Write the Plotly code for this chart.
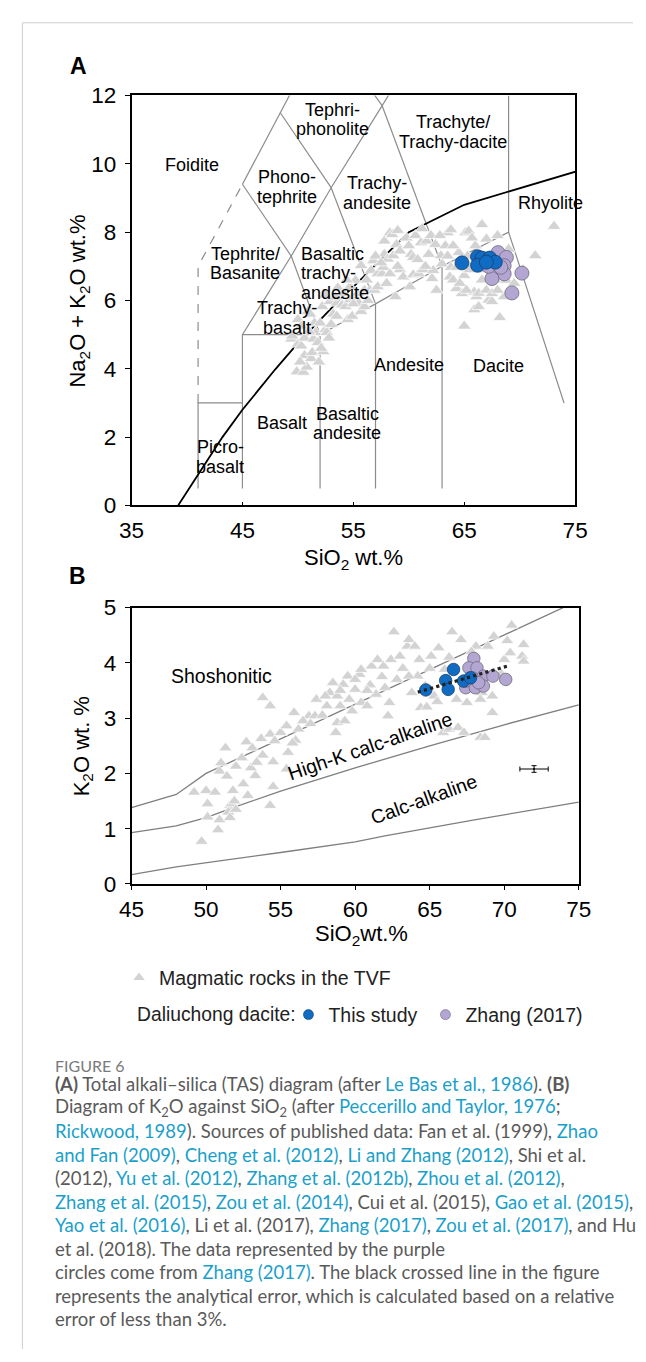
import plotly.graph_objects as go

W, H = 646, 1362

# ---------------- data: panel A (TAS) ----------------
# published magmatic rocks of the TVF: (SiO2, Na2O+K2O)
tvf_tas = [
    (49.4, 4.87), (49.5, 4.96), (49.9, 3.91), (50.0, 4.72), (50.0, 5.44), (50.3, 5.25), (50.3, 4.67), (50.5, 3.90),
    (50.6, 4.39), (50.6, 4.90), (50.8, 4.05), (50.9, 5.68), (51.1, 5.60), (51.2, 4.30), (51.3, 4.48), (51.4, 4.87),
    (51.5, 5.34), (51.6, 5.06), (51.8, 4.77), (51.9, 4.20), (52.0, 5.34), (52.2, 5.82), (52.3, 4.50), (52.5, 5.15),
    (52.5, 6.16), (52.6, 5.06), (52.8, 4.90), (52.9, 5.97), (53.0, 5.30), (53.2, 5.60), (53.5, 5.54), (53.5, 5.92),
    (53.6, 6.37), (54.0, 5.87), (54.1, 6.20), (54.3, 5.82), (54.5, 5.44), (54.7, 6.02), (54.7, 6.40), (54.9, 5.54),
    (55.1, 6.10), (55.2, 6.59), (55.4, 6.21), (55.5, 5.92), (55.7, 5.68), (55.7, 7.02), (56.0, 5.82), (56.0, 6.30),
    (56.2, 6.60), (56.5, 6.30), (56.6, 6.88), (56.8, 7.16), (56.9, 6.30), (57.2, 6.78), (57.2, 6.40), (57.6, 6.78),
    (57.7, 6.97), (57.8, 7.35), (57.8, 7.74), (58.1, 7.21), (58.3, 7.98), (58.3, 6.78), (58.5, 7.93), (58.6, 7.31),
    (58.8, 6.11), (58.9, 7.64), (59.2, 7.45), (59.2, 6.90), (59.5, 6.69), (59.8, 7.83), (60.1, 6.40), (60.2, 7.35),
    (60.4, 7.26), (60.4, 6.75), (60.6, 7.90), (60.9, 6.78), (61.1, 7.69), (61.3, 6.90), (61.6, 7.74), (61.8, 7.35),
    (62.1, 6.64), (62.2, 6.88), (62.4, 7.64), (62.5, 6.30), (62.9, 7.31), (63.0, 7.07), (63.5, 7.98), (63.7, 6.69),
    (63.8, 8.07), (63.8, 6.97), (64.3, 6.97), (64.3, 6.35), (64.5, 7.40), (64.8, 6.20), (65.0, 6.73), (65.0, 5.25),
    (65.1, 7.98), (65.4, 8.03), (65.5, 6.90), (65.7, 7.83), (65.9, 6.25), (65.9, 5.73), (66.0, 7.60), (66.1, 6.11),
    (66.3, 5.82), (66.3, 6.21), (66.6, 8.22), (66.6, 6.60), (67.0, 6.30), (67.0, 7.80), (67.2, 6.01), (67.5, 5.97),
    (67.8, 6.60), (68.0, 7.90), (68.2, 5.50), (68.6, 6.11), (68.8, 6.59), (69.0, 7.50), (69.5, 6.50), (70.3, 6.90),
    (71.4, 7.31), (73.1, 8.17),
    (50.2, 4.20), (51.0, 5.10), (52.1, 4.60), (53.4, 6.10), (54.4, 6.60), (55.0, 5.90), (56.3, 6.00), (57.0, 7.30),
    (57.5, 7.10), (58.0, 6.50), (59.0, 7.00), (59.0, 8.05), (60.0, 7.60), (60.8, 7.20), (61.2, 8.10), (61.5, 7.00),
    (62.0, 7.90), (62.8, 7.90), (63.3, 7.60), (63.5, 7.30), (64.0, 6.60), (64.0, 7.60), (64.6, 6.50), (65.2, 6.30),
    (65.3, 7.30), (66.8, 6.90), (67.5, 6.20), (68.0, 6.30),
]
# Daliuchong dacite
this_study_tas = [(64.8, 7.10), (66.2, 7.28), (66.6, 7.24), (66.2, 7.03), (67.3, 7.24), (67.8, 7.12), (67.0, 7.12)]
zhang2017_tas = [(68.05, 7.40), (68.8, 7.26), (67.5, 7.07), (68.6, 7.02), (67.7, 6.78), (68.6, 6.78),
                 (67.5, 6.64), (70.2, 6.80), (69.3, 6.22), (67.2, 7.00), (68.3, 6.97)]

# TAS field boundaries (Le Bas et al., 1986)
tas_fields = [
    [(41, 0.5), (41, 3), (45, 3)],
    [(45, 0.5), (45, 5), (49.4, 7.3), (53, 9.3), (57.6, 11.7), (61, 13.5)],
    [(45, 5), (52, 5), (57, 5.9), (63, 7), (69, 8), (74, 3)],
    [(52, 0.5), (52, 5)],
    [(57, 0.5), (57, 5.9)],
    [(63, 0.5), (63, 7)],
    [(49.4, 7.3), (52, 5)],
    [(45, 9.4), (49.4, 7.3)],
    [(53, 9.3), (57, 5.9)],
    [(57.6, 11.7), (63, 7)],
    [(45, 9.4), (48.4, 11.5), (52.5, 14)],
    [(48.4, 11.5), (53, 9.3)],
    [(57.6, 11.7), (52.5, 14)],
    [(69, 8), (69, 12)],
]
foidite_limit = [(41, 3), (41, 7), (45, 9.4)]
# alkaline / subalkaline divide
alk_divide_sio2 = [39.2, 40, 43.2, 45, 48, 50, 53.7, 55, 60, 65, 77.4]
alk_divide_tot = [0, 0.4, 2, 2.8, 4, 4.75, 6, 6.4, 8, 8.8, 10]

# field names: (text, SiO2, Na2O+K2O, anchor)
tas_names = [
    ("Foidite", 40.43, 9.97, "center"),
    ("Tephri-", 53.08, 11.57, "center"), ("phonolite", 53.08, 11.01, "center"),
    ("Trachyte/", 63.95, 11.22, "center"), ("Trachy-dacite", 63.95, 10.64, "center"),
    ("Phono-", 48.98, 9.61, "center"), ("tephrite", 48.98, 9.03, "center"),
    ("Trachy-", 57.11, 9.43, "center"), ("andesite", 57.11, 8.86, "center"),
    ("Rhyolite", 72.79, 8.84, "center"),
    ("Tephrite/", 45.24, 7.37, "center"), ("Basanite", 45.24, 6.80, "center"),
    ("Basaltic", 50.12, 7.37, "left"), ("trachy-", 50.12, 6.80, "left"), ("andesite", 50.12, 6.23, "left"),
    ("Trachy-", 48.98, 5.77, "center"), ("basalt", 48.98, 5.18, "center"),
    ("Andesite", 60.04, 4.10, "center"),
    ("Dacite", 68.06, 4.08, "center"),
    ("Basalt", 48.54, 2.42, "center"),
    ("Basaltic", 54.43, 2.69, "center"), ("andesite", 54.43, 2.12, "center"),
    ("Picro-", 42.99, 1.71, "center"), ("basalt", 42.99, 1.13, "center"),
]

# ---------------- data: panel B (K2O vs SiO2) ----------------
tvf_k2o = [
    (49.7, 0.77), (49.2, 1.66), (50.0, 1.69), (50.1, 1.21), (50.6, 1.66), (50.9, 2.04), (51.0, 2.19), (51.3, 2.46),
    (51.4, 1.95), (51.6, 1.42), (50.8, 0.98), (50.9, 1.16), (50.1, 1.45), (51.8, 1.69), (52.0, 2.13), (52.4, 2.28),
    (52.7, 2.57), (53.1, 2.46), (52.5, 1.81), (53.3, 1.96), (53.7, 2.63), (53.8, 2.33), (53.8, 3.37), (54.3, 3.22),
    (54.3, 2.71), (54.5, 2.21), (54.5, 1.76), (54.3, 1.42), (54.6, 2.59), (55.0, 2.74), (55.4, 2.86), (55.5, 2.38),
    (55.4, 2.08), (55.9, 3.10), (56.2, 2.80), (56.9, 3.04), (57.3, 3.04), (57.4, 3.34), (58.1, 3.22), (58.3, 3.46),
    (58.5, 3.64), (58.8, 3.40), (59.0, 3.22), (58.7, 2.74), (58.8, 2.92), (59.2, 3.61), (59.5, 3.76), (59.6, 3.34),
    (59.8, 3.13), (60.0, 3.52), (60.3, 3.79), (60.4, 3.28), (60.4, 3.88), (60.8, 3.22), (61.1, 3.94), (61.4, 3.43),
    (61.5, 4.06), (61.9, 3.94), (62.0, 3.55), (62.2, 3.04), (62.3, 3.28), (62.4, 4.06), (62.6, 4.56), (63.0, 4.12),
    (63.5, 4.30), (63.6, 4.42), (63.8, 3.46), (64.2, 3.76), (64.3, 4.06), (64.4, 3.19), (64.7, 3.58), (65.1, 4.12),
    (65.6, 4.27), (65.9, 2.74), (66.0, 3.88), (66.3, 2.80), (66.5, 4.56), (66.8, 3.34), (66.9, 2.83), (67.1, 4.42),
    (67.3, 2.74), (67.5, 3.28), (67.9, 4.06), (68.1, 4.30), (68.4, 2.65), (68.7, 2.65), (68.5, 3.46), (68.9, 4.30),
    (69.2, 3.40), (69.3, 4.48), (70.0, 4.06), (70.5, 4.68), (70.4, 4.18), (71.2, 4.12), (71.3, 4.33), (71.3, 4.03),
    (68.4, 3.34), (65.3, 3.40), (63.6, 3.76), (51.5, 1.30), (51.7, 1.45), (51.6, 1.20), (51.9, 1.50), (52.0, 1.35),
    (53.0, 2.10), (56.5, 2.95), (57.8, 3.05), (59.3, 2.95), (61.0, 3.60), (62.8, 3.70),
    (56.0, 2.60), (57.0, 2.90), (58.0, 3.40), (59.0, 3.50), (60.0, 3.70), (60.8, 3.50), (61.8, 3.75), (63.2, 3.90),
    (64.0, 4.30), (65.0, 3.90), (66.3, 4.10), (67.8, 4.20), (69.8, 3.80), (70.2, 4.40), (69.2, 3.10), (64.8, 3.20),
    (65.5, 3.30), (55.8, 2.55), (53.4, 2.20), (52.8, 1.60),
]
this_study_k2o = [(64.74, 3.51), (66.07, 3.68), (66.24, 3.52), (66.6, 3.88), (67.27, 3.67), (67.74, 3.73)]
zhang2017_k2o = [(67.96, 4.08), (67.63, 3.91), (68.17, 3.91), (68.6, 3.76), (69.24, 3.76), (70.1, 3.70),
                 (67.42, 3.55), (68.06, 3.55), (68.6, 3.58), (67.85, 3.73), (67.42, 3.67), (68.28, 3.64)]

# series boundaries (Peccerillo and Taylor, 1976; Rickwood, 1989)
shoshonite_sio2 = [45, 48, 50, 56, 63, 70, 75]
shoshonite_k2o = [1.38, 1.62, 2.0, 2.75, 3.63, 4.5, 5.13]
highk_sio2 = [45, 48, 50, 52, 55, 60, 65, 70, 75]
highk_k2o = [0.93, 1.05, 1.2, 1.4, 1.68, 2.1, 2.5, 2.88, 3.24]
calcalk_sio2 = [45, 48, 55, 60, 62, 68, 75]
calcalk_k2o = [0.17, 0.31, 0.57, 0.76, 0.87, 1.16, 1.48]

# trend of the Daliuchong samples
trend_sio2 = [64.2, 70.2]
trend_k2o = [3.47, 3.94]

# analytical error cross
err_sio2, err_k2o = [72.0], [2.08]
err_dsio2, err_dk2o = [0.95], [0.06]

k2o_names = [
    ("Shoshonitic", 51.02, 3.76, 0),
    ("High-K calc-alkaline", 60.98, 2.49, -19),
    ("Calc-alkaline", 64.63, 1.54, -20),
]

LINK = "#1a9fcb"


def link(t):
    return '<span style="color:%s">%s</span>' % (LINK, t)


caption_lines = [
    '<b>(A)</b> Total alkali\u2013silica (TAS) diagram (after ' + link("Le Bas et al., 1986") + '). <b>(B)</b>',
    'Diagram of K<sub>2</sub>O against SiO<sub>2</sub> (after ' + link("Peccerillo and Taylor, 1976") + ';',
    link("Rickwood, 1989") + '). Sources of published data: Fan et al. (1999), ' + link("Zhao"),
    link("and Fan (2009)") + ', ' + link("Cheng et al. (2012)") + ', ' + link("Li and Zhang (2012)") + ', Shi et al.',
    '(2012), ' + link("Yu et al. (2012)") + ', ' + link("Zhang et al. (2012b)") + ', ' + link("Zhou et al. (2012)") + ',',
    link("Zhang et al. (2015)") + ', ' + link("Zou et al. (2014)") + ', Cui et al. (2015), ' + link("Gao et al. (2015)") + ',',
    link("Yao et al. (2016)") + ', Li et al. (2017), ' + link("Zhang (2017)") + ', ' + link("Zou et al. (2017)") + ', and Hu',
    'et al. (2018). The data represented by the purple',
    'circles come from ' + link("Zhang (2017)") + '. The black crossed line in the figure',
    'represents the analytical error, which is calculated based on a relative',
    'error of less than 3%.',
]

# ---------------- styling ----------------
ARIAL = "Arial, 'Liberation Sans', sans-serif"
CAPTION_FONT = "Lato, 'Open Sans', sans-serif"
TRI_COLOR = "#d3d3d3"
BLUE = "#0f6cc2"
PURPLE = "#b4a6d3"
FIELD_GRAY = "#8c8c8c"


def px(x):
    return x / W


def py(y):
    return 1 - y / H


def xs(pts):
    return [p[0] for p in pts]


def ys(pts):
    return [p[1] for p in pts]


fig = go.Figure()

# ---- panel A ----
for seg in tas_fields:
    fig.add_trace(go.Scatter(x=xs(seg), y=ys(seg), mode="lines", xaxis="x", yaxis="y",
                             line=dict(color=FIELD_GRAY, width=1.2), showlegend=False, hoverinfo="skip"))
fig.add_trace(go.Scatter(x=xs(foidite_limit), y=ys(foidite_limit), mode="lines", xaxis="x", yaxis="y",
                         line=dict(color=FIELD_GRAY, width=1.2, dash="dash"), showlegend=False, hoverinfo="skip"))
fig.add_trace(go.Scatter(x=alk_divide_sio2, y=alk_divide_tot, mode="lines", xaxis="x", yaxis="y",
                         line=dict(color="black", width=1.8), showlegend=False, hoverinfo="skip"))
fig.add_trace(go.Scatter(x=xs(tvf_tas), y=ys(tvf_tas), mode="markers", xaxis="x", yaxis="y",
                         marker=dict(symbol="triangle-up", size=12, color=TRI_COLOR,
                                     line=dict(color="white", width=0.7)),
                         showlegend=False))
fig.add_trace(go.Scatter(x=xs(zhang2017_tas), y=ys(zhang2017_tas), mode="markers", xaxis="x", yaxis="y",
                         marker=dict(symbol="circle", size=14, color=PURPLE,
                                     line=dict(color="#6e6a7c", width=0.8)),
                         showlegend=False))
fig.add_trace(go.Scatter(x=xs(this_study_tas), y=ys(this_study_tas), mode="markers", xaxis="x", yaxis="y",
                         marker=dict(symbol="circle", size=14, color=BLUE,
                                     line=dict(color="#1b3f6e", width=0.8)),
                         showlegend=False))

# ---- panel B ----
for bx, by in [(shoshonite_sio2, shoshonite_k2o), (highk_sio2, highk_k2o), (calcalk_sio2, calcalk_k2o)]:
    fig.add_trace(go.Scatter(x=bx, y=by, mode="lines", xaxis="x2", yaxis="y2",
                             line=dict(color="#7f7f7f", width=1.3), showlegend=False, hoverinfo="skip"))
fig.add_trace(go.Scatter(x=xs(tvf_k2o), y=ys(tvf_k2o), mode="markers", xaxis="x2", yaxis="y2",
                         marker=dict(symbol="triangle-up", size=11.5, color=TRI_COLOR,
                                     line=dict(color="white", width=0.7)),
                         showlegend=False))
fig.add_trace(go.Scatter(x=xs(zhang2017_k2o), y=ys(zhang2017_k2o), mode="markers", xaxis="x2", yaxis="y2",
                         marker=dict(symbol="circle", size=12.5, color=PURPLE,
                                     line=dict(color="#6e6a7c", width=0.8)),
                         showlegend=False))
fig.add_trace(go.Scatter(x=xs(this_study_k2o), y=ys(this_study_k2o), mode="markers", xaxis="x2", yaxis="y2",
                         marker=dict(symbol="circle", size=12.5, color=BLUE,
                                     line=dict(color="#1b3f6e", width=0.8)),
                         showlegend=False))
fig.add_trace(go.Scatter(x=trend_sio2, y=trend_k2o, mode="lines", xaxis="x2", yaxis="y2",
                         line=dict(color="#222222", width=3.2, dash="dot"), showlegend=False, hoverinfo="skip"))
fig.add_trace(go.Scatter(x=err_sio2, y=err_k2o, mode="markers", xaxis="x2", yaxis="y2",
                         marker=dict(size=2, color="black"),
                         error_x=dict(type="data", array=err_dsio2, color="black", thickness=1, width=2.5),
                         error_y=dict(type="data", array=err_dk2o, color="black", thickness=1, width=2.5),
                         showlegend=False))

# ---- legend keys ----
fig.add_trace(go.Scatter(x=[None], y=[None], mode="markers", name="Magmatic rocks in the TVF", legend="legend2",
                         marker=dict(symbol="triangle-up", size=10, color=TRI_COLOR), showlegend=True))
fig.add_trace(go.Scatter(x=[None], y=[None], mode="markers", name="This study", legend="legend",
                         legendwidth=92,
                         marker=dict(symbol="circle", size=10, color=BLUE, line=dict(color="#1b3f6e", width=0.6)),
                         showlegend=True))
fig.add_trace(go.Scatter(x=[None], y=[None], mode="markers", name="Zhang (2017)", legend="legend",
                         legendwidth=125,
                         marker=dict(symbol="circle", size=10, color=PURPLE, line=dict(color="#6e6a7c", width=0.6)),
                         showlegend=True))

axis_common = dict(showline=True, linecolor="black", linewidth=1.5, mirror=True, showgrid=False,
                   zeroline=False, tickcolor="black", tickfont=dict(family=ARIAL, size=22.5, color="black"))

annotations = []
for text, x, y, anchor in tas_names:
    annotations.append(dict(x=x, y=y, xref="x", yref="y", text=text, showarrow=False, xanchor=anchor,
                            yanchor="middle", font=dict(family=ARIAL, size=18, color="black")))
for text, x, y, ang in k2o_names:
    annotations.append(dict(x=x, y=y, xref="x2", yref="y2", text=text, showarrow=False, textangle=ang,
                            xanchor="center", yanchor="middle", font=dict(family=ARIAL, size=19.5, color="black")))

page_text = [
    ("<b>A</b>", 68.7, 55, 23, 0),
    ("<b>B</b>", 66.7, 575, 23, 0),
    ("Na<sub>2</sub>O + K<sub>2</sub>O wt.%", 68.7, 294, 22, -90),
    ("SiO<sub>2</sub> wt.%", 355, 557, 22, 0),
    ("K<sub>2</sub>O wt. %", 73, 748, 22, -90),
    ("SiO<sub>2</sub>wt.%", 363, 940, 22, 0),
]
for text, x, y, size, ang in page_text:
    annotations.append(dict(x=px(x), y=py(y), xref="paper", yref="paper", text=text, showarrow=False,
                            textangle=ang, xanchor="center", yanchor="middle",
                            font=dict(family=ARIAL, size=size, color="black")))

annotations.append(dict(x=px(127.6), y=py(1021.7), xref="paper", yref="paper", text="Daliuchong dacite:",
                        showarrow=False, xanchor="left", yanchor="middle",
                        font=dict(family=ARIAL, size=19.3, color="#222222")))

annotations.append(dict(x=px(42), y=py(1073.3), xref="paper", yref="paper", text="FIGURE 6",
                        showarrow=False, xanchor="left", yanchor="middle",
                        font=dict(family=CAPTION_FONT, size=16, color="#7a7a7a")))
for i, line in enumerate(caption_lines):
    annotations.append(dict(x=px(42), y=py(1092.3 + 23.94 * i), xref="paper", yref="paper", text=line,
                            showarrow=False, xanchor="left", yanchor="middle", align="left",
                            font=dict(family=CAPTION_FONT, size=18.5, color="#5a5a5a")))

frame = [
    dict(type="line", xref="paper", yref="paper", x0=px(9.8), x1=px(9.8), y0=0, y1=py(11),
         line=dict(color="#cfcfcf", width=1)),
    dict(type="line", xref="paper", yref="paper", x0=px(9.8), x1=1, y0=py(11), y1=py(11),
         line=dict(color="#cfcfcf", width=1)),
]

fig.update_layout(
    width=W, height=H,
    margin=dict(l=0, r=0, t=0, b=0),
    paper_bgcolor="white", plot_bgcolor="white",
    xaxis=dict(domain=[px(123.5), px(585.7)], range=[35, 75], tickvals=[35, 45, 55, 65, 75],
               ticks="inside", ticklen=4, anchor="y", ticklabelstandoff=4, **axis_common),
    yaxis=dict(domain=[py(502.7), py(85)], range=[0, 12], tickvals=[0, 2, 4, 6, 8, 10, 12],
               ticks="outside", ticklen=5, anchor="x", ticklabelstandoff=4, **axis_common),
    xaxis2=dict(domain=[px(123.5), px(589.5)], range=[45, 75], tickvals=[45, 50, 55, 60, 65, 70, 75],
                ticks="outside", ticklen=4, anchor="y2", **axis_common),
    yaxis2=dict(domain=[py(888.3), py(606.7)], range=[0, 5], tickvals=[0, 1, 2, 3, 4, 5],
                ticks="outside", ticklen=5, anchor="x2", ticklabelstandoff=4, **axis_common),
    legend=dict(orientation="h", x=px(287), y=py(1021.7), xanchor="left", yanchor="middle",
                font=dict(family=ARIAL, size=19.5, color="#222222"), bgcolor="rgba(0,0,0,0)",
                itemwidth=30),
    legend2=dict(orientation="h", x=px(110.5), y=py(984), xanchor="left", yanchor="middle",
                 font=dict(family=ARIAL, size=19.5, color="#222222"), bgcolor="rgba(0,0,0,0)",
                 itemwidth=30),
    annotations=annotations,
    shapes=frame,
    hovermode=False,
)

# the page body gets no default margin so the figure fills the window exactly
fig.write_html("out.html", post_script="document.body.style.margin='0px';")
